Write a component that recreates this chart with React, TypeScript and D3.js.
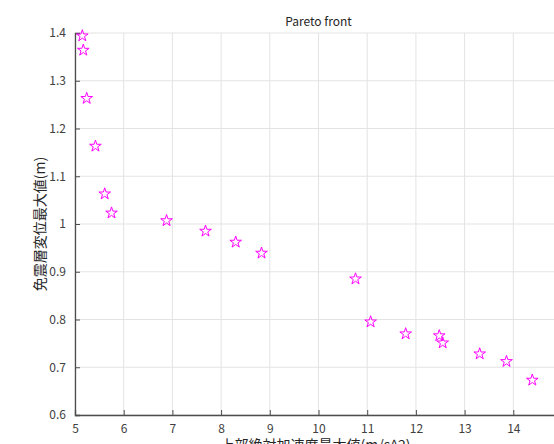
import React, { useEffect, useRef } from "react";
import * as d3 from "d3";

// pareto points
const accel = [5.15, 5.17, 5.24, 5.42, 5.61, 5.75, 6.88, 7.68, 8.3, 8.83, 10.76, 11.07, 11.79, 12.48, 12.55, 13.31, 13.86, 14.39];
const disp = [1.394, 1.364, 1.263, 1.163, 1.063, 1.023, 1.007, 0.985, 0.962, 0.939, 0.885, 0.795, 0.77, 0.766, 0.751, 0.728, 0.712, 0.673];
const xTicks = [5, 6, 7, 8, 9, 10, 11, 12, 13, 14];
const yTicks = [0.6, 0.7, 0.8, 0.9, 1, 1.1, 1.2, 1.3, 1.4];

const W = 554;
const H = 444;
const margin = { top: 33, left: 75, right: 0, bottom: 29 };
const FONT = "'Noto Sans CJK JP', 'Noto Sans', sans-serif";

export default function App() {
  const ref = useRef<SVGSVGElement>(null);

  useEffect(() => {
    const svg = d3.select(ref.current);
    svg.selectAll("*").remove();

    const plotW = 487; // axes run past the window edge
    const plotH = H - margin.top - margin.bottom;
    const x = d3.scaleLinear().domain([5, 15]).range([0, plotW]);
    const y = d3.scaleLinear().domain([0.6, 1.4]).range([plotH, 0]);

    const g = svg.append("g").attr("transform", `translate(${margin.left},${margin.top})`);

    // grid
    g.append("g")
      .selectAll("line")
      .data(xTicks)
      .join("line")
      .attr("x1", (d) => x(d))
      .attr("x2", (d) => x(d))
      .attr("y1", 0)
      .attr("y2", plotH)
      .attr("stroke", "#e3e3e3")
      .attr("stroke-width", 1);
    g.append("g")
      .selectAll("line")
      .data(yTicks)
      .join("line")
      .attr("x1", 0)
      .attr("x2", plotW)
      .attr("y1", (d) => y(d))
      .attr("y2", (d) => y(d))
      .attr("stroke", "#e3e3e3")
      .attr("stroke-width", 1);

    // axes
    const axisColor = "#4d4d4d";
    const xa = g
      .append("g")
      .attr("transform", `translate(0,${plotH})`)
      .call(d3.axisBottom(x).tickValues(xTicks).tickSize(-5).tickPadding(9).tickFormat(d3.format("d")));
    const ya = g
      .append("g")
      .call(d3.axisLeft(y).tickValues(yTicks).tickSize(-5).tickPadding(9).tickFormat((d) => String(+d)));
    [xa, ya].forEach((a) => {
      a.select(".domain").attr("stroke", axisColor).attr("stroke-width", 1.3);
      a.selectAll("line").attr("stroke", axisColor);
      a.selectAll("text")
        .attr("fill", "#404040")
        .style("font-size", "12px")
        .style("font-family", FONT);
    });

    // markers
    const star = d3.symbol().type(d3.symbolStar).size(42);
    g.append("g")
      .selectAll("path")
      .data(accel.map((a, i) => [a, disp[i]]))
      .join("path")
      .attr("transform", (d) => `translate(${x(d[0])},${y(d[1])})`)
      .attr("d", star)
      .attr("fill", "none")
      .attr("stroke", "#ff00ff")
      .attr("stroke-width", 1);

    // title and labels
    svg.append("text")
      .attr("x", margin.left + plotW / 2)
      .attr("y", 26)
      .attr("text-anchor", "middle")
      .attr("fill", "#262626")
      .style("font-size", "12px")
      .style("font-family", FONT)
      .text("Pareto front");
    svg.append("text")
      .attr("x", margin.left + plotW / 2 - 3)
      .attr("y", H + 6)
      .attr("text-anchor", "middle")
      .attr("fill", "#262626")
      .style("font-size", "14px")
      .style("font-family", FONT)
      .text("上部絶対加速度最大値(m/s^2)");
    svg.append("text")
      .attr("transform", `translate(45,${margin.top + plotH / 2}) rotate(-90)`)
      .attr("text-anchor", "middle")
      .attr("fill", "#262626")
      .style("font-size", "14px")
      .style("font-family", FONT)
      .text("免震層変位最大値(m)");
  }, []);

  return (
    <svg
      ref={ref}
      width={W}
      height={H}
      style={{ position: "absolute", left: 0, top: 0, background: "#fff" }}
    />
  );
}
